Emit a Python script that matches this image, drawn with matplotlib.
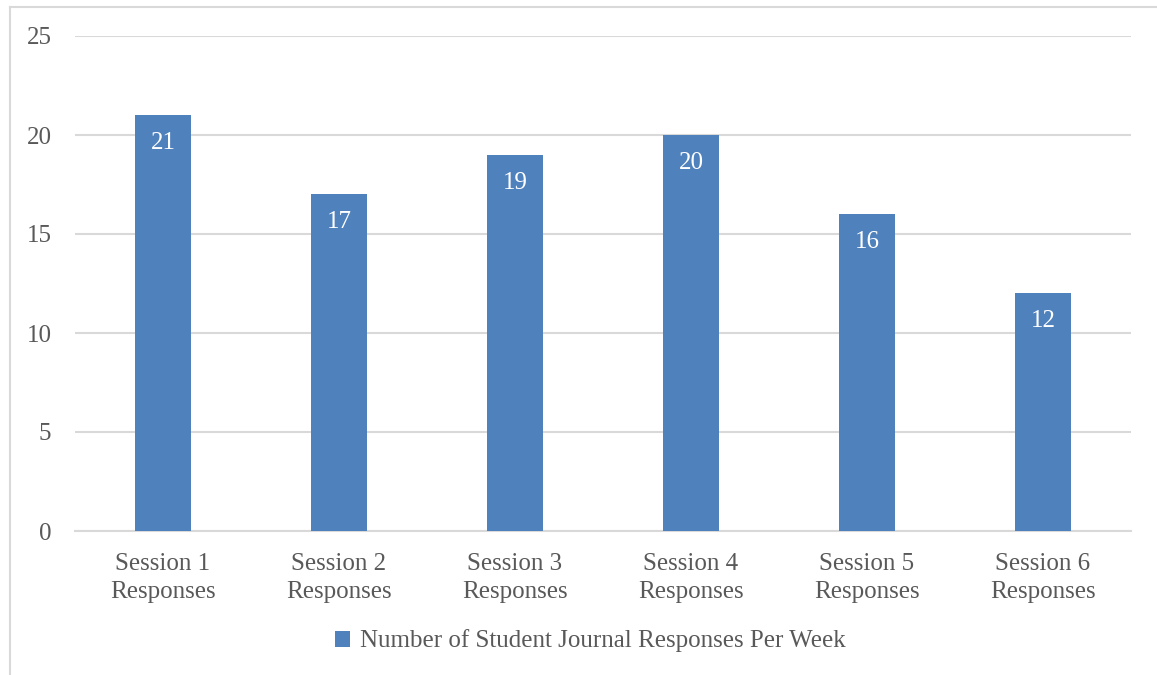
import matplotlib
matplotlib.use("Agg")
import matplotlib.pyplot as plt
from matplotlib.lines import Line2D
from matplotlib.patches import Patch

categories = ["Session 1\nResponses", "Session 2\nResponses", "Session 3\nResponses",
              "Session 4\nResponses", "Session 5\nResponses", "Session 6\nResponses"]
responses = [21, 17, 19, 20, 16, 12]
y_ticks = [0, 5, 10, 15, 20, 25]
series_name = "Number of Student Journal Responses Per Week"

BAR = "#4F81BD"
GRID = "#D9D9D9"
TEXT = "#595959"
FONT = ["Liberation Serif", "DejaVu Serif"]
FS = 18

plt.rcParams["font.family"] = FONT

W, H = 1157, 675
fig = plt.figure(figsize=(W / 100, H / 100), dpi=100)
ax = fig.add_axes([75 / W, 144 / H, (1131 - 75) / W, (531 - 36) / H])

x = list(range(len(categories)))
bars = ax.bar(x, responses, width=0.32, color=BAR, zorder=3)

for xi, v in zip(x, responses):
    ax.annotate(str(v), (xi, v), xytext=(0, -20), textcoords="offset points",
                ha="center", va="center", color="white", fontsize=FS)

ax.set_xlim(-0.5, len(categories) - 0.5)
ax.set_ylim(0, 25)
ax.set_yticks(y_ticks)
ax.set_xticks(x)
ax.set_xticklabels(categories, linespacing=1.35)
ax.tick_params(axis="both", length=0, colors=TEXT, labelsize=FS)
ax.tick_params(axis="y", pad=17)
ax.tick_params(axis="x", pad=16)
ax.grid(axis="y", color=GRID, linewidth=1.5, zorder=0)
for side in ["top", "right", "left"]:
    ax.spines[side].set_visible(False)
ax.spines["bottom"].set_color(GRID)
ax.spines["bottom"].set_linewidth(1.5)

handle = Patch(facecolor=BAR, edgecolor="none")
fig.legend([handle], [series_name], loc="center", bbox_to_anchor=(590 / W, 1 - 641 / H),
           frameon=False, fontsize=FS, labelcolor=TEXT, handlelength=0.6,
           handleheight=0.6, handletextpad=0.4)

# outer chart frame
fig.add_artist(Line2D([10 / W, 1], [1 - 7 / H, 1 - 7 / H], color=GRID, linewidth=1.5))
fig.add_artist(Line2D([10 / W, 10 / W], [0, 1 - 7 / H], color=GRID, linewidth=1.5))

fig.savefig("out.png", dpi=100, facecolor="white")
